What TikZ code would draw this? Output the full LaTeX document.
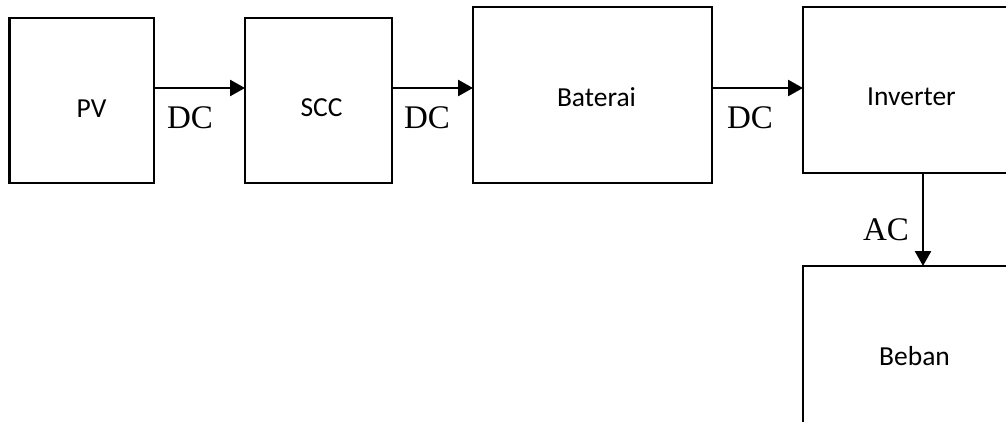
\documentclass[tikz,border=0pt]{standalone}
\usepackage{fontspec}
\setmainfont{Liberation Serif}
\newfontfamily\boxfont{Carlito}
\usetikzlibrary{arrows.meta}
\tikzset{
  blk/.style={draw, line width=2.4pt, rectangle, inner sep=0pt, outer sep=0pt},
  blktext/.style={font=\boxfont\fontsize{27.5}{32}\selectfont, inner sep=0pt},
  flowlbl/.style={font=\fontsize{33}{38}\selectfont, inner sep=0pt},
  arr/.style={line width=2.6pt, -{Triangle[length=15pt,width=16pt]}}
}
\begin{document}
\begin{tikzpicture}[x=1pt,y=-1pt]
\useasboundingbox (0,0) rectangle (1006,422);
\clip (0,0) rectangle (1006,422);
% blocks
\node[blk, minimum width=144.5pt, minimum height=165pt] (pv)  at (81.75,100.5) {};
\node[blk, minimum width=147pt, minimum height=165pt]   (scc) at (318.5,100.5) {};
\node[blk, minimum width=239pt, minimum height=176pt]   (bat) at (592.5,95) {};
\node[blk, minimum width=209pt, minimum height=166pt]   (inv) at (907.5,90) {};
\node[blk, minimum width=209pt, minimum height=174pt]   (beb) at (907.5,353) {};
% block texts
\node[blktext] (pvt)  at (91.5,108.5) {PV};
\node[blktext] (scct) at (321.5,108) {SCC};
\node[blktext] (batt) at (596.5,97) {Baterai};
\node[blktext] (invt) at (911.5,96.5) {Inverter};
\node[blktext] (bebt) at (914.5,356) {Beban};
% connectors
\draw[arr] (pv.east |- 0,88) -- (scc.west |- 0,88);
\draw[arr] (scc.east |- 0,88) -- (bat.west |- 0,88);
\draw[arr] (bat.east |- 0,88) -- (inv.west |- 0,88);
\draw[arr] (inv.south -| 923,0) -- (beb.north -| 923,0);
% flow labels
\node[flowlbl] (l1) at (190,118) {DC};
\node[flowlbl] (l2) at (427,118) {DC};
\node[flowlbl] (l3) at (750,118) {DC};
\node[flowlbl] (l4) at (886,230) {AC};
\end{tikzpicture}
\end{document}
